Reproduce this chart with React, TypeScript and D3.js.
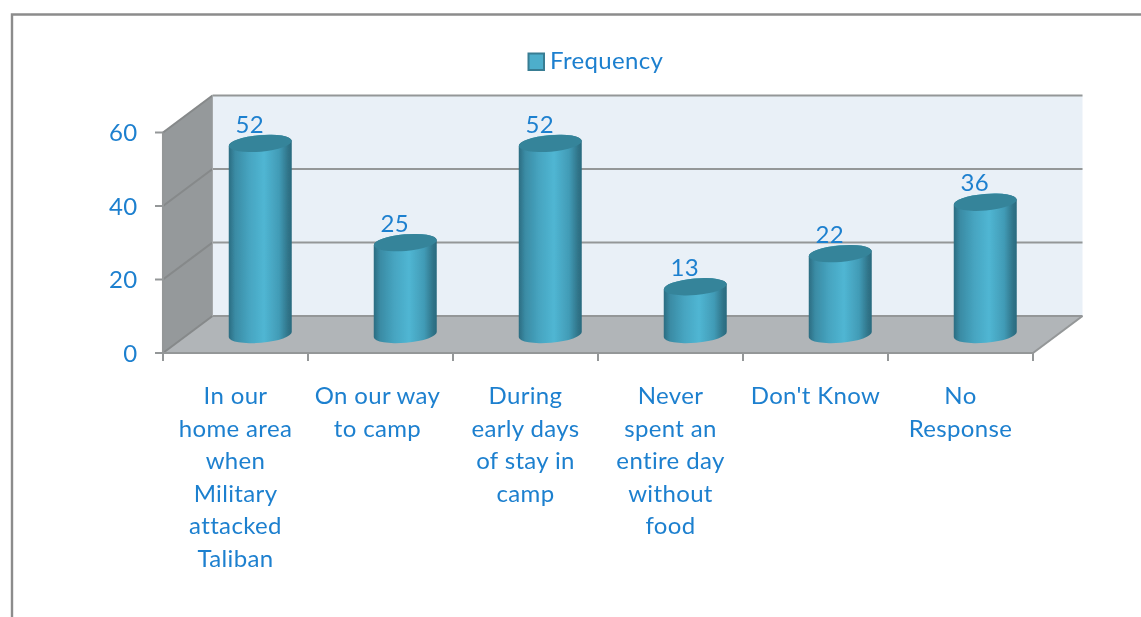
import React from "react";
import * as d3 from "d3";

const categoryLabels: string[][] = [
  ["In our", "home area", "when", "Military", "attacked", "Taliban"],
  ["On our way", "to camp"],
  ["During", "early days", "of stay in", "camp"],
  ["Never", "spent an", "entire day", "without", "food"],
  ["Don't Know"],
  ["No", "Response"],
];
const categoryIds = ["home", "way", "early", "never", "dontknow", "noresponse"];
const frequency = [52, 25, 52, 13, 22, 36];
const yTicks = [0, 20, 40, 60];
const legendLabel = "Frequency";

const W = 1141, H = 617;
const X0 = 163, X1 = 1033, Y0 = 353, Y60 = 132.5;
const DX = 49.5, DY = -37;
const TEXT = "#1f80cf";
const FONT = "Lato, Carlito, sans-serif";
const LINE = "#949798";
const TRACK = 0.35;

const x = d3.scaleBand<string>().domain(categoryIds).range([X0, X1]);
const y = d3.scaleLinear().domain([0, 60]).range([Y0, Y60]);

const RX = 31.5, RY = 8.3, TILT = -5;
const SKEW = 2.8;

function cylinder(cx: number, top: number, bottom: number) {
  return (
    `M${cx - RX},${top + SKEW} L${cx - RX},${bottom + SKEW} ` +
    `A${RX},${RY} ${TILT} 0 0 ${cx + RX},${bottom - SKEW} ` +
    `L${cx + RX},${top - SKEW} ` +
    `A${RX},${RY} ${TILT} 0 0 ${cx - RX},${top + SKEW} Z`
  );
}

const poly = (pts: [number, number][]) => d3.line()(pts) + "Z";

export default function App() {
  return (
    <svg
      width={W}
      height={H}
      viewBox={`0 0 ${W} ${H}`}
      style={{ position: "absolute", left: 0, top: 0, background: "#fff" }}
      fontFamily={FONT}
    >
      <defs>
        <linearGradient id="cyl" x1="0" x2="1" y1="0" y2="0">
          <stop offset="0" stopColor="#2b6c81" />
          <stop offset="0.1" stopColor="#3a8ba4" />
          <stop offset="0.32" stopColor="#46a4c0" />
          <stop offset="0.56" stopColor="#50b6d3" />
          <stop offset="0.8" stopColor="#419bb6" />
          <stop offset="0.94" stopColor="#307489" />
          <stop offset="1" stopColor="#2a6a7e" />
        </linearGradient>
        <filter id="soft" x="-5%" y="-5%" width="110%" height="110%">
          <feGaussianBlur stdDeviation="0.5" />
        </filter>
      </defs>

      <g filter="url(#soft)">
        <path d="M12,617 L12,14.5 L1141,14.5" fill="none" stroke="#8c8c8c" strokeWidth={2.4} />

        {/* walls */}
        <path
          d={poly([[X0 + DX, y(60) + DY], [X1 + DX, y(60) + DY], [X1 + DX, y(0) + DY], [X0 + DX, y(0) + DY]])}
          fill="#e9f0f7"
        />
        <path
          d={poly([[X0, y(60)], [X0 + DX, y(60) + DY], [X0 + DX, y(0) + DY], [X0, y(0)]])}
          fill="#95999b"
        />
        <path
          d={poly([[X0, y(0)], [X0 + DX, y(0) + DY], [X1 + DX, y(0) + DY], [X1, y(0)]])}
          fill="#b1b5b8"
        />

        {/* gridlines */}
        {yTicks.map((t) => (
          <g key={t} fill="none" strokeWidth={2.1}>
            <path d={`M${X0},${y(t)} L${X0 + DX},${y(t) + DY}`} stroke="#86898a" />
            <path d={`M${X0 + DX},${y(t) + DY} H${X1 + DX}`} stroke={LINE} />
          </g>
        ))}
        <path d={`M${X0 + DX},${y(60) + DY} V${y(0) + DY}`} stroke="#a5a8aa" strokeWidth={1} />
        <path d={`M${X1},${y(0)} L${X1 + DX},${y(0) + DY}`} stroke={LINE} strokeWidth={2.1} />
        <path d={`M${X0},${y(60)} V${y(0)} H${X1}`} fill="none" stroke={LINE} strokeWidth={2.1} />

        {/* ticks */}
        {yTicks.map((t) => (
          <path key={t} d={`M${X0 - 8},${y(t)} H${X0}`} stroke={LINE} strokeWidth={2} />
        ))}
        {[...categoryIds.map((c) => x(c)!), X1].map((px, i) => (
          <path key={i} d={`M${px},${Y0} V${Y0 + 8}`} stroke={LINE} strokeWidth={2} />
        ))}

        {/* bars */}
        {frequency.map((v, i) => {
          const cx = x(categoryIds[i])! + x.bandwidth() / 2 + DX / 2;
          const bottom = y(0) + DY / 2;
          const top = y(v) + DY / 2;
          return (
            <g key={i}>
              <path d={cylinder(cx, top, bottom)} fill="url(#cyl)" />
              <ellipse
                cx={cx}
                cy={top}
                rx={RX}
                ry={RY}
                transform={`rotate(${TILT} ${cx} ${top})`}
                fill="#36849a"
              />
              <text
                x={cx - 10.5}
                y={top - 19.5}
                dy="0.36em"
                textAnchor="middle"
                fontSize={24}
                letterSpacing={TRACK}
                fill={TEXT}
              >
                {v}
              </text>
            </g>
          );
        })}

        {/* y labels */}
        {yTicks.map((t) => (
          <text
            key={t}
            x={137.5}
            y={y(t)}
            dy="0.36em"
            textAnchor="end"
            fontSize={24}
            letterSpacing={TRACK}
            fill={TEXT}
          >
            {t}
          </text>
        ))}

        {/* category labels */}
        {categoryLabels.map((lines, i) => {
          // the second label sits a little left of its band, as in the original
          const lx = x(categoryIds[i])! + x.bandwidth() / 2 + (i === 1 ? -3 : 0);
          return (
            <text key={i} textAnchor="middle" fontSize={24} letterSpacing={TRACK} fill={TEXT}>
              {lines.map((l, j) => (
                <tspan key={j} x={lx} y={404 + j * 32.5}>
                  {l}
                </tspan>
              ))}
            </text>
          );
        })}

        {/* legend */}
        <rect x={528.5} y={53.5} width={15.5} height={16.5} fill="#4eaecb" stroke="#397d93" strokeWidth={2} />
        <text x={550} y={69} fontSize={24} letterSpacing={TRACK} fill={TEXT}>
          {legendLabel}
        </text>
      </g>
    </svg>
  );
}
